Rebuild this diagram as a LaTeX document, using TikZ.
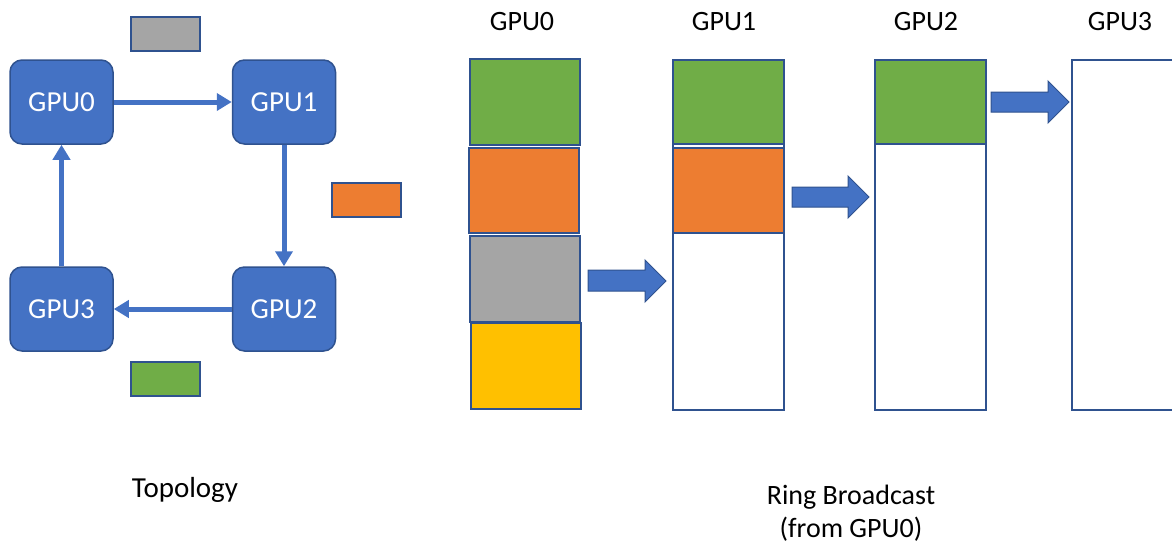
\documentclass[tikz,border=0pt]{standalone}
\usepackage{fontspec}
\setmainfont{Carlito}
\usetikzlibrary{arrows.meta}
\definecolor{gpublue}{HTML}{4472C4}
\definecolor{edgeblue}{HTML}{2F528F}
\definecolor{chunkgreen}{HTML}{70AD47}
\definecolor{chunkorange}{HTML}{ED7D31}
\definecolor{chunkgray}{HTML}{A5A5A5}
\definecolor{chunkyellow}{HTML}{FFC000}
\tikzset{
  gpu/.style={draw=edgeblue, line width=1.5pt, fill=gpublue, rounded corners=12pt,
    minimum width=103pt, minimum height=84pt, inner sep=0pt, text=white,
    font=\fontsize{29}{34}\selectfont},
  chunk/.style={draw=edgeblue, line width=2pt, inner sep=0pt},
  buffer/.style={draw=edgeblue, line width=2pt},
  link/.style={draw=gpublue, line width=5pt, -{Triangle[length=15pt,width=17pt]}},
  fatarrow/.style={fill=gpublue, draw=edgeblue, line width=1pt},
  label/.style={font=\fontsize{28}{33}\selectfont, inner sep=0pt, align=center}
}
\begin{document}
\begin{tikzpicture}[x=1pt, y=-1pt]
\useasboundingbox (0,0) rectangle (1172,544);

% ---- ring topology ----
\node[gpu] (g0) at (61.5,102) {GPU0};
\node[gpu] (g1) at (284,102) {GPU1};
\node[gpu] (g2) at (284,309) {GPU2};
\node[gpu] (g3) at (61.5,309) {GPU3};
\draw[link] (g0.east) -- (g1.west);
\draw[link] (g1.south) -- (g2.north);
\draw[link] (g2.west) -- (g3.east);
\draw[link] (g3.north) -- (g0.south);

% chunks in flight on each link
\node[chunk, fill=chunkgray, minimum width=69pt, minimum height=34pt] (cgray) at (165.5,34) {};
\node[chunk, fill=chunkorange, minimum width=69pt, minimum height=34pt] (corange) at (366.5,200) {};
\node[chunk, fill=chunkgreen, minimum width=69pt, minimum height=34pt] (cgreen) at (165.5,379) {};

\node[label, font=\fontsize{29}{33}\selectfont] (ltopo) at (185,490) {Topology};

% ---- ring broadcast buffers ----
% GPU0 holds all four chunks
\node[chunk, fill=chunkgreen, minimum width=110pt, minimum height=86pt] (b0a) at (525,102) {};
\node[chunk, fill=chunkorange, minimum width=110pt, minimum height=85pt] (b0b) at (524,190.5) {};
\node[chunk, fill=chunkgray, minimum width=110pt, minimum height=86pt] (b0c) at (525,279) {};
\node[chunk, fill=chunkyellow, minimum width=110pt, minimum height=86pt] (b0d) at (526,366) {};

% GPU1
\draw[buffer] (673,60) rectangle (784,410);
\node[chunk, fill=chunkgreen, minimum width=111pt, minimum height=84pt] (b1a) at (728.5,102) {};
\node[chunk, fill=chunkorange, minimum width=111pt, minimum height=85pt] (b1b) at (728.5,190.5) {};

% GPU2
\draw[buffer] (875,60) rectangle (986,410);
\node[chunk, fill=chunkgreen, minimum width=111pt, minimum height=84pt] (b2a) at (930.5,102) {};

% GPU3 (runs past the right edge)
\draw[buffer] (1174,60) -- (1072,60) -- (1072,410) -- (1174,410);

% block arrows between buffers
\draw[fatarrow] (588,270) -- (645,270) -- (645,260) -- (666,281) -- (645,302) -- (645,291) -- (588,291) -- cycle;
\draw[fatarrow] (792,187) -- (848,187) -- (848,176) -- (869,197) -- (848,218) -- (848,207) -- (792,207) -- cycle;
\draw[fatarrow] (991,92) -- (1048,92) -- (1048,81) -- (1069,102) -- (1048,123) -- (1048,112) -- (991,112) -- cycle;

\node[label] (h0) at (522,22) {GPU0};
\node[label] (h1) at (724,22) {GPU1};
\node[label] (h2) at (926,22) {GPU2};
\node[label] (h3) at (1120,22) {GPU3};

\node[label] (lring) at (851,513) {Ring Broadcast\\(from GPU0)};
\end{tikzpicture}
\end{document}
